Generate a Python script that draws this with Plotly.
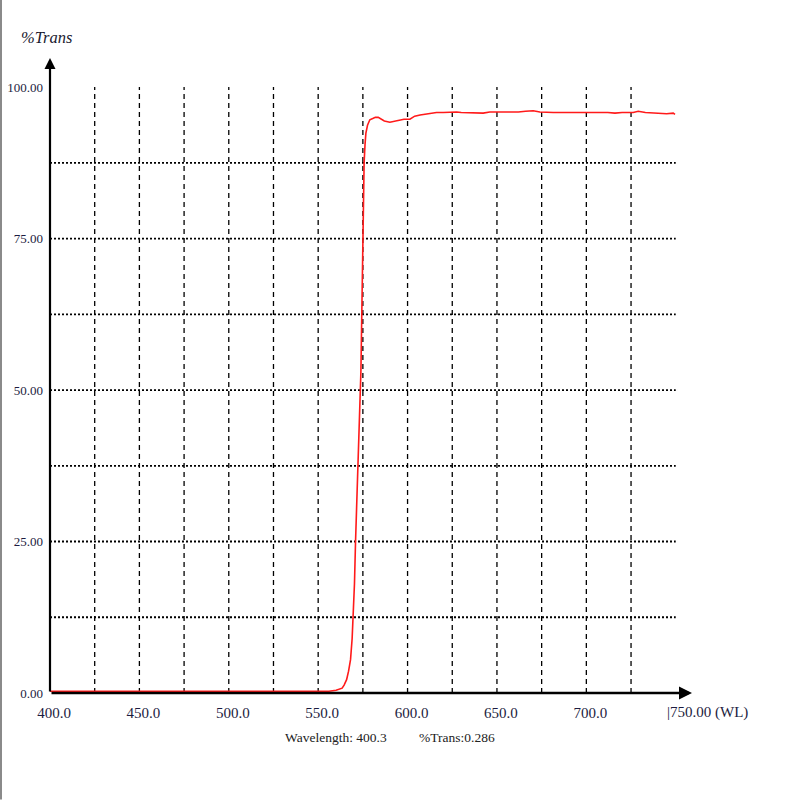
import plotly.graph_objects as go

# ---------------- data ----------------
wavelength = [400, 450, 500, 540, 556, 560, 562, 563.4, 564.5, 565.9, 567, 568.1,
              569, 569.6, 570.3, 570.9, 571.5, 572, 572.9, 573.9, 574.4, 574.8,
              575.2, 575.7, 576.2, 576.7, 577.6, 578.9, 580.5, 582, 583.6, 585,
              587, 590.1, 592, 595.7, 598, 601.3, 604, 607, 610.6, 613, 616.2,
              620, 624, 627.4, 630, 634, 638, 642.3, 646, 649.8, 654, 658, 662,
              666, 670.3, 674, 678, 681.5, 686, 690, 694.6, 699, 703, 707.6, 712,
              716, 720, 726.2, 729, 733, 737.4, 741, 744.9, 748.6, 749.6]
trans = [0.29, 0.3, 0.3, 0.3, 0.3, 0.45, 0.6, 0.8, 1.3, 2.2, 3.6, 5.5,
         9, 12.5, 18, 25, 31, 37.5, 46, 53, 62.5, 72,
         80, 87.5, 90.5, 92.4, 93.7, 94.6, 94.8, 95.0, 95.0, 94.7,
         94.4, 94.2, 94.3, 94.6, 94.7, 94.7, 95.2, 95.4, 95.6, 95.7, 95.8,
         95.8, 95.9, 95.9, 95.8, 95.8, 95.7, 95.7, 95.9, 95.9, 95.8, 95.8, 95.9,
         96.0, 96.1, 95.9, 95.8, 95.8, 95.8, 95.8, 95.9, 95.8, 95.8, 95.8, 95.8,
         95.7, 95.8, 95.8, 96.0, 95.8, 95.7, 95.6, 95.6, 95.7, 95.5]

x_tickvals = [400, 450, 500, 550, 600, 650, 700]
x_ticktext = ["400.0", "450.0", "500.0", "550.0", "600.0", "650.0", "700.0"]
y_tickvals = [0, 25, 50, 75, 100]
y_ticktext = ["0.00", "25.00", "50.00", "75.00", "100.00"]
grid_x = [425, 450, 475, 500, 525, 550, 575, 600, 625, 650, 675, 700, 725]
grid_y = [12.5, 25, 37.5, 50, 62.5, 75, 87.5]
x_end_label = "|750.00 (WL)"
readout_wl = "Wavelength: 400.3"
readout_tr = "%Trans:0.286"
y_title = "%Trans"

X_MIN, X_MAX = 400, 759.1
Y_MIN, Y_MAX = 0, 104.8
X_LAST = 750
Y_TOP = 100

# ---------------- figure ----------------
L, R, T, B = 50, 108, 58, 106.5
W = H = 800
pw = W - L - R
ph = H - T - B

def px_x(p):
    return (p - L) / pw

def px_y(p):
    return (H - B - p) / ph

SERIF = "Liberation Serif, Times New Roman, serif"
LABEL_COLOR = "#1c1c40"

fig = go.Figure()
fig.add_trace(go.Scatter(x=wavelength, y=trans, mode="lines",
                         line=dict(color="#ff1a1a", width=1.6),
                         hoverinfo="skip", showlegend=False))

shapes = []
for g in grid_x:
    shapes.append(dict(type="line", xref="x", yref="y", x0=g, x1=g, y0=Y_MIN, y1=Y_TOP,
                       line=dict(color="black", width=1.3, dash="5px,4px"), layer="below"))
for g in grid_y:
    shapes.append(dict(type="line", xref="x", yref="y", x0=X_MIN, x1=X_LAST, y0=g, y1=g,
                       line=dict(color="black", width=1.8, dash="2px,2px"), layer="below"))
# gray left border of the window
shapes.append(dict(type="line", xref="paper", yref="paper", x0=px_x(1), x1=px_x(1),
                   y0=px_y(0), y1=px_y(800), line=dict(color="#8a8a8a", width=2)))

annotations = [
    # axis arrows
    dict(x=X_MIN, y=Y_MAX, ax=X_MIN, ay=Y_MIN, xref="x", yref="y", axref="x", ayref="y",
         showarrow=True, arrowhead=2, arrowsize=1, arrowwidth=2.2, arrowcolor="black", text=""),
    dict(x=X_MAX, y=Y_MIN, ax=X_MIN, ay=Y_MIN, xref="x", yref="y", axref="x", ayref="y",
         showarrow=True, arrowhead=2, arrowsize=1, arrowwidth=2.6, arrowcolor="black", text=""),
    dict(x=px_x(46), y=px_y(37), xref="paper", yref="paper", text="<i>" + y_title + "</i>",
         showarrow=False, font=dict(family=SERIF, size=16.5, color="#1a1a30"),
         xanchor="center", yanchor="middle"),
    dict(x=px_x(665), y=px_y(713), xref="paper", yref="paper", text=x_end_label,
         showarrow=False, font=dict(family=SERIF, size=15, color=LABEL_COLOR),
         xanchor="left", yanchor="middle"),
    dict(x=px_x(283), y=px_y(738), xref="paper", yref="paper", text=readout_wl,
         showarrow=False, font=dict(family=SERIF, size=13.5, color="#222222"),
         xanchor="left", yanchor="middle"),
    dict(x=px_x(417), y=px_y(738), xref="paper", yref="paper", text=readout_tr,
         showarrow=False, font=dict(family=SERIF, size=13.5, color="#222222"),
         xanchor="left", yanchor="middle"),
]

fig.update_layout(
    width=W, height=H,
    margin=dict(l=L, r=R, t=T, b=B, autoexpand=False),
    paper_bgcolor="white", plot_bgcolor="white",
    shapes=shapes, annotations=annotations,
    xaxis=dict(range=[X_MIN, X_MAX], tickvals=x_tickvals, ticktext=x_ticktext,
               showgrid=False, zeroline=False, showline=False, ticks="",
               ticklabelstandoff=9, ticklabelshift=4,
               tickfont=dict(family=SERIF, size=15, color=LABEL_COLOR)),
    yaxis=dict(range=[Y_MIN, Y_MAX], tickvals=y_tickvals, ticktext=y_ticktext,
               showgrid=False, zeroline=False, showline=False, ticks="",
               ticklabelstandoff=6,
               tickfont=dict(family=SERIF, size=13, color=LABEL_COLOR)),
)

fig.write_html("out.html", config={"displayModeBar": False},
               post_script="document.body.style.margin='0px';")
